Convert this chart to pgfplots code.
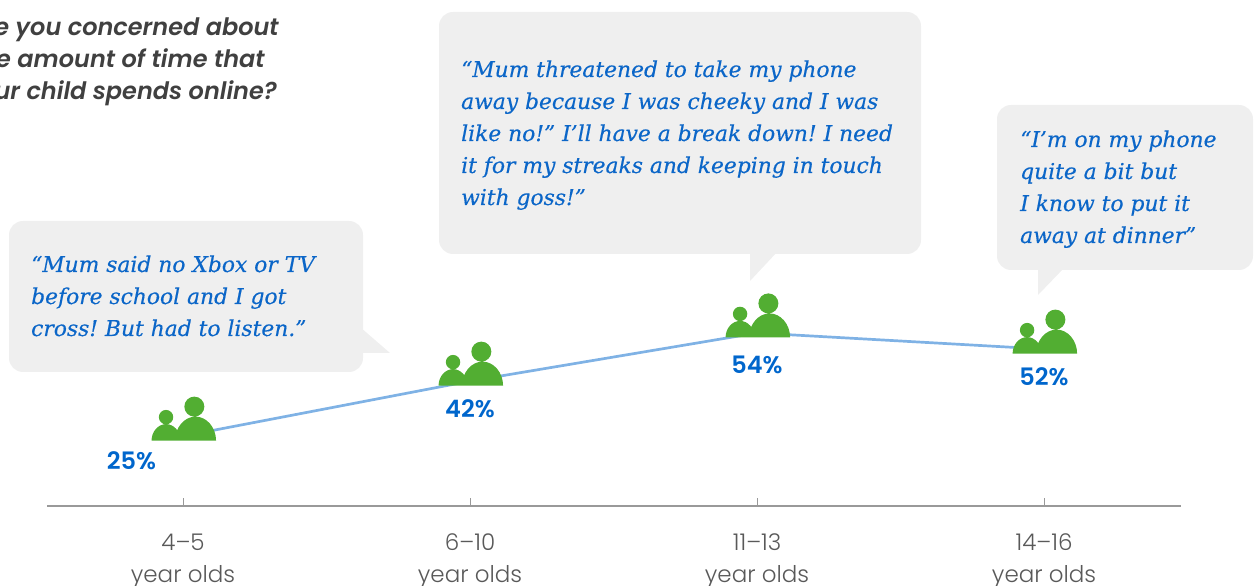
\documentclass[border=0pt]{standalone}
\usepackage{pgfplots}
\usepackage{fontspec}
\pgfplotsset{compat=1.18}
\setmainfont{Poppins}
\newfontfamily\lightf{Poppins Light}
\newfontfamily\boldf{Poppins SemiBold}
\newfontfamily\qf[ItalicFont={Poppins SemiBold Italic}]{Poppins SemiBold}
\newfontfamily\quotef[ItalicFeatures={FakeBold=0.35}]{DejaVu Serif}
\frenchspacing
\definecolor{boxgray}{HTML}{EFEFEF}
\definecolor{iconGreen}{HTML}{52AE32}
\definecolor{lineBlue}{HTML}{7FB2E5}
\definecolor{labelBlue}{HTML}{0066CC}
\definecolor{qtext}{HTML}{404040}
\definecolor{quoteBlue}{HTML}{0B66C8}
\pgfdeclareplotmark{family}{%
  \pgfsetfillcolor{iconGreen}%
  \pgfpathmoveto{\pgfpoint{-31.5pt}{-4.5pt}}%
  \pgfpathcurveto{\pgfpoint{-31.5pt}{4.5pt}}{\pgfpoint{-25pt}{12pt}}{\pgfpoint{-17pt}{12pt}}%
  \pgfpathcurveto{\pgfpoint{-9pt}{12pt}}{\pgfpoint{-2.5pt}{4.5pt}}{\pgfpoint{-2.5pt}{-4.5pt}}%
  \pgfpathclose
  \pgfpathcircle{\pgfpoint{-17pt}{19pt}}{7.2pt}%
  \pgfpathmoveto{\pgfpoint{-8pt}{-4.5pt}}%
  \pgfpathcurveto{\pgfpoint{-8pt}{8.5pt}}{\pgfpoint{1.2pt}{19.5pt}}{\pgfpoint{12.5pt}{19.5pt}}%
  \pgfpathcurveto{\pgfpoint{23.8pt}{19.5pt}}{\pgfpoint{33pt}{8.5pt}}{\pgfpoint{33pt}{-4.5pt}}%
  \pgfpathclose
  \pgfpathcircle{\pgfpoint{11.3pt}{29.5pt}}{10pt}%
  \pgfusepath{fill}%
}
\newcommand{\ql}[3]{\node[anchor=base west,inner sep=0pt,text=quoteBlue,font=\quotef\itshape\fontsize{21.8}{32}\selectfont] at (#1,#2) {#3};}
\newcommand{\qq}[3]{\node[anchor=base east,inner sep=0pt,text=qtext,font=\qf\itshape\fontsize{24}{32}\selectfont] at (#1,#2) {#3};}
\begin{document}
\begin{tikzpicture}
\path[use as bounding box,clip] (0,0) rectangle (1254pt,586pt);
\begin{axis}[
  at={(47pt,80pt)},anchor=south west,
  scale only axis,width=1134pt,height=312.5pt,
  xmin=-0.474,xmax=3.477,ymin=3.4,ymax=100,
  axis x line=bottom,axis y line=none,
  axis line style={-,draw=black!40,line width=1.2pt},
  xtick={0,1,2,3},
  xticklabels={{4–5\\year olds},{6–10\\year olds},{11–13\\year olds},{14–16\\year olds}},
  x tick label style={align=center,text=black!65,font=\lightf\fontsize{23}{32}\selectfont,yshift=-24.5pt},
  tick align=inside,major tick length=8pt,
  tick style={draw=black!40,line width=0.8pt},
  clip=false,
]
\addplot[lineBlue,line width=2.7pt,mark=family,mark options={solid,fill=iconGreen,draw=none}] coordinates {(0,25) (1,42) (2,56.9) (3,51.9)};
\end{axis}
\begin{scope}[x=1pt,y=-1pt,shift={(0pt,586pt)}]
  % callouts
  \fill[boxgray,rounded corners=14pt] (9,221) rectangle (363,372);
  \fill[boxgray] (360,327) -- (390,353) -- (360,353) -- cycle;
  \fill[boxgray,rounded corners=14pt] (439,12) rectangle (921,254);
  \fill[boxgray] (750,250) -- (750,281) -- (779,250) -- cycle;
  \fill[boxgray,rounded corners=14pt] (997,105) rectangle (1253,270);
  \fill[boxgray] (1038,266) -- (1038,295) -- (1066,266) -- cycle;
  % question
  \qq{279}{35.5}{Are you concerned about}
  \qq{265}{67.5}{the amount of time that}
  \qq{277}{99.5}{your child spends online?}
  % quotes
  \ql{31}{272}{“Mum said no Xbox or TV}
  \ql{31}{304}{before school and I got}
  \ql{31}{336}{cross! But had to listen.”}
  \ql{461}{77}{“Mum threatened to take my phone}
  \ql{461}{109}{away because I was cheeky and I was}
  \ql{461}{141}{like no!” I’ll have a break down! I need}
  \ql{461}{173}{it for my streaks and keeping in touch}
  \ql{461}{205}{with goss!”}
  \ql{1020}{147}{“I’m on my phone}
  \ql{1020}{179}{quite a bit but}
  \ql{1020}{211}{I know to put it}
  \ql{1020}{243}{away at dinner”}
  % value labels
  \node[anchor=base,inner sep=0pt,text=labelBlue,font=\boldf\fontsize{24}{28}\selectfont] at (131.5,470) {25\%};
  \node[anchor=base,inner sep=0pt,text=labelBlue,font=\boldf\fontsize{24}{28}\selectfont] at (470,418) {42\%};
  \node[anchor=base,inner sep=0pt,text=labelBlue,font=\boldf\fontsize{24}{28}\selectfont] at (757,374) {54\%};
  \node[anchor=base,inner sep=0pt,text=labelBlue,font=\boldf\fontsize{24}{28}\selectfont] at (1044,386) {52\%};
\end{scope}
\end{tikzpicture}
\end{document}
